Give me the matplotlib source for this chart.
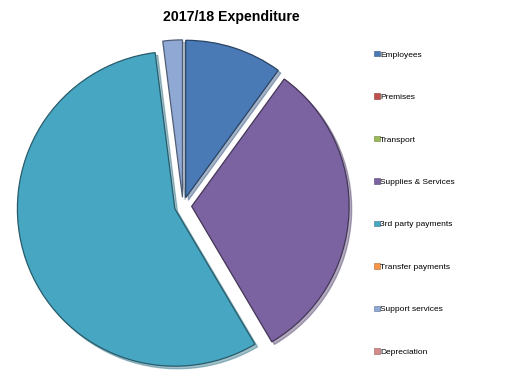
import matplotlib.pyplot as plt
from matplotlib.patches import Patch
import matplotlib.colors as mcolors

plt.rcParams['font.family'] = ['Liberation Sans', 'DejaVu Sans']

categories = ['Employees', 'Premises', 'Transport', 'Supplies & Services',
              '3rd party payments', 'Transfer payments', 'Support services',
              'Depreciation']
# share of spend (%)
values = [10.0, 0.0, 0.0, 31.5, 56.5, 0.0, 2.0, 0.0]
colors = ['#4A7AB5', '#C0504D', '#9BBB59', '#7B62A0', '#47A7C2', '#F79646',
          '#8FA9D4', '#D48A88']


def darker(c, f=0.55):
    r, g, b = mcolors.to_rgb(c)
    return (r * f, g * f, b * f)


fig = plt.figure(figsize=(5.16, 3.8), dpi=100)
ax = fig.add_axes([0.0252, 0.0105, 0.659, 0.895])

# only slices with a value get drawn; the legend still lists everything
shown = [i for i, v in enumerate(values) if v > 0]
wedges, _ = ax.pie([values[i] for i in shown],
                   colors=[colors[i] for i in shown],
                   startangle=90, counterclock=False,
                   explode=[0.055] * len(shown),
                   shadow={'ox': 0.012, 'oy': -0.012, 'shade': 0.3, 'alpha': 0.45},
                   wedgeprops={'linewidth': 0.9})
for w, i in zip(wedges, shown):
    w.set_edgecolor(darker(colors[i]))
ax.set_xlim(-1.08, 1.08)
ax.set_ylim(-1.08, 1.08)
ax.set_aspect('equal')
ax.axis('off')

fig.text(0.448, 0.955, '2017/18 Expenditure', ha='center', va='center',
         fontsize=10.2, fontweight='bold')

handles = [Patch(facecolor=c, edgecolor=darker(c, 0.7), linewidth=0.4) for c in colors]
fig.legend(handles, categories, loc='upper left', bbox_to_anchor=(0.725, 0.866),
           frameon=False, fontsize=6, handlelength=0.65, handleheight=0.65,
           handletextpad=0.1, labelspacing=4.17, borderpad=0, borderaxespad=0)

fig.savefig('out.png', dpi=100)
